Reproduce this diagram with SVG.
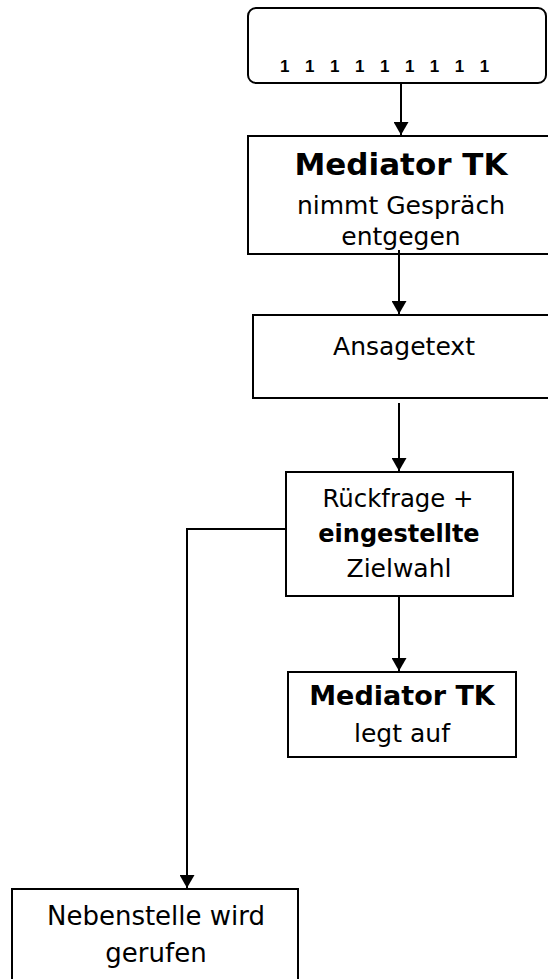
<svg xmlns="http://www.w3.org/2000/svg" width="548" height="979" viewBox="0 0 548 979">
<defs>
<marker id="ah" markerWidth="14" markerHeight="15" refX="13" refY="7.5" orient="auto" markerUnits="userSpaceOnUse">
<path d="M0,0 L13,7.5 L0,15 Z" fill="#000"/>
</marker>
<style>
.box{fill:#fff;stroke:#000;stroke-width:2}
.t{font-family:"DejaVu Sans",Verdana,sans-serif;font-size:25px;fill:#000;text-anchor:middle}
.b{font-weight:bold}
.c{fill:none;stroke:#000;stroke-width:2}
</style>
</defs>
<rect width="548" height="979" fill="#fff"/>
<g id="n0">
<rect class="box" x="248" y="8" width="298" height="75" rx="8"/>
<text x="280" y="72" style="font-family:'Liberation Sans',Arial,sans-serif;font-size:17px;font-weight:bold;word-spacing:10.8px">1 1 1 1 1 1 1 1 1</text>
</g>
<g id="n1">
<rect class="box" x="248" y="136" width="302" height="118"/>
<text class="t b" x="401" y="175" style="font-size:31px">Mediator TK</text>
<text class="t" x="401" y="214">nimmt Gespräch</text>
<text class="t" x="401" y="245">entgegen</text>
</g>
<g id="n2">
<rect class="box" x="253" y="315" width="297" height="83"/>
<text class="t" x="404" y="355">Ansagetext</text>
</g>
<g id="n3">
<rect class="box" x="286" y="472" width="227" height="124"/>
<text class="t" x="398" y="507" style="font-size:24.4px">Rückfrage +</text>
<text class="t b" x="399" y="542" style="font-size:24px">eingestellte</text>
<text class="t" x="399" y="577">Zielwahl</text>
</g>
<g id="n4">
<rect class="box" x="288" y="672" width="228" height="85"/>
<text class="t b" x="402" y="705" style="font-size:27px">Mediator TK</text>
<text class="t" x="402" y="742">legt auf</text>
</g>
<g id="n5">
<rect class="box" x="12" y="889" width="286" height="100"/>
<text class="t" x="156" y="925" style="font-size:26px">Nebenstelle wird</text>
<text class="t" x="156" y="962" style="font-size:26px">gerufen</text>
</g>
<g id="connectors">
<path class="c" d="M401,83 V135" marker-end="url(#ah)"/>
<path class="c" d="M399,250 V314" marker-end="url(#ah)"/>
<path class="c" d="M399,403 V471" marker-end="url(#ah)"/>
<path class="c" d="M399,596 V671" marker-end="url(#ah)"/>
<path class="c" d="M286,529 H187 V888" marker-end="url(#ah)"/>
</g>
</svg>
